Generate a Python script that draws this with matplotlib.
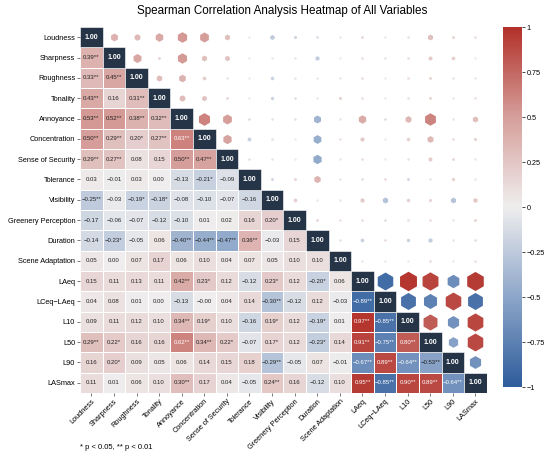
import numpy as np
import matplotlib.pyplot as plt
from matplotlib.colors import LinearSegmentedColormap, Normalize

plt.rcParams["font.family"] = ["Liberation Sans", "DejaVu Sans"]

# variable names (rows and columns)
labels = ["Loudness", "Sharpness", "Roughness", "Tonality", "Annoyance", "Concentration",
          "Sense of Security", "Tolerance", "Visibility", "Greenery Perception", "Duration",
          "Scene Adaptation", "LAeq", "LCeq\u2212LAeq", "L10", "L50", "L90", "LASmax"]

# lower triangle of the Spearman matrix (row i, columns 0..i-1)
rho_rows = [
    [],
    [0.39],
    [0.33, 0.45],
    [0.43, 0.16, 0.31],
    [0.53, 0.52, 0.38, 0.32],
    [0.50, 0.29, 0.20, 0.27, 0.63],
    [0.29, 0.27, 0.08, 0.15, 0.50, 0.47],
    [0.03, -0.01, 0.03, 0.00, -0.13, -0.21, -0.09],
    [-0.25, -0.03, -0.19, -0.18, -0.08, -0.10, -0.07, -0.16],
    [-0.17, -0.06, -0.07, -0.12, -0.10, 0.01, 0.02, 0.16, 0.20],
    [-0.14, -0.23, -0.05, 0.06, -0.40, -0.44, -0.47, 0.36, -0.03, 0.15],
    [0.05, 0.00, 0.07, 0.17, 0.06, 0.10, 0.04, 0.07, 0.05, 0.10, 0.10],
    [0.15, 0.11, 0.13, 0.11, 0.42, 0.23, 0.12, -0.12, 0.23, 0.12, -0.20, 0.06],
    [0.04, 0.08, 0.01, 0.00, -0.13, -0.0, 0.04, 0.14, -0.30, -0.12, 0.12, -0.03, -0.89],
    [0.09, 0.11, 0.12, 0.10, 0.34, 0.19, 0.10, -0.16, 0.19, 0.12, -0.19, 0.01, 0.97, -0.85],
    [0.29, 0.22, 0.16, 0.16, 0.62, 0.34, 0.22, -0.07, 0.17, 0.12, -0.23, 0.14, 0.91, -0.75, 0.80],
    [0.16, 0.20, 0.09, 0.05, 0.06, 0.14, 0.15, 0.18, -0.29, -0.05, 0.07, -0.01, -0.67, 0.89, -0.64, -0.53],
    [0.11, 0.01, 0.06, 0.10, 0.30, 0.17, 0.04, -0.05, 0.24, 0.16, -0.12, 0.10, 0.95, -0.85, 0.90, 0.89, -0.64],
]

# significance marks for the same cells
star_rows = [
    [],
    ["**"],
    ["**", "**"],
    ["**", "", "**"],
    ["**", "**", "**", "**"],
    ["**", "**", "*", "**", "**"],
    ["**", "**", "", "", "**", "**"],
    ["", "", "", "", "", "*", ""],
    ["**", "", "*", "*", "", "", "", ""],
    ["", "", "", "", "", "", "", "", "*"],
    ["", "*", "", "", "**", "**", "**", "**", "", ""],
    ["", "", "", "", "", "", "", "", "", "", ""],
    ["", "", "", "", "**", "*", "", "", "*", "", "*", ""],
    ["", "", "", "", "", "", "", "", "**", "", "", "", "**"],
    ["", "", "", "", "**", "*", "", "", "*", "", "*", "", "**", "**"],
    ["**", "*", "", "", "**", "**", "*", "", "*", "", "*", "", "**", "**", "**"],
    ["", "*", "", "", "", "", "", "", "**", "", "", "", "**", "**", "**", "**"],
    ["", "", "", "", "**", "", "", "", "**", "", "", "", "**", "**", "**", "**", "**"],
]

cbar_ticks = [-1, -0.75, -0.5, -0.25, 0, 0.25, 0.5, 0.75, 1]
cbar_labels = ["\u22121", "\u22120.75", "\u22120.5", "\u22120.25", "0", "0.25", "0.5", "0.75", "1"]

n = len(labels)
cmap = LinearSegmentedColormap.from_list(
    "rb", ["#2d5c9b", "#8da6c9", "#efeeee", "#d69f9b", "#b2312a"])
norm = Normalize(-1, 1)

# full lower matrix, upper masked
lower = np.full((n, n), np.nan)
for i, r in enumerate(rho_rows):
    for j, v in enumerate(r):
        lower[i, j] = v

fig = plt.figure(figsize=(5.5, 4.58), dpi=100)
ax = fig.add_axes([0.1455, 0.142, 0.7395, 0.799])
cax = fig.add_axes([0.9145, 0.155, 0.0345, 0.786])

mesh = ax.pcolormesh(np.arange(n + 1), np.arange(n + 1), np.ma.masked_invalid(lower),
                     cmap=cmap, norm=norm, edgecolors="white", linewidth=0.4)

# diagonal cells
for k in range(n):
    ax.add_patch(plt.Rectangle((k, k), 1, 1, facecolor="#253447",
                               edgecolor="white", linewidth=0.4))
    ax.text(k + 0.5, k + 0.5, "1.00", ha="center", va="center",
            color="white", fontsize=5, fontweight="bold")

# annotations and hexagons
for i, r in enumerate(rho_rows):
    for j, v in enumerate(r):
        txt = f"{v:.2f}".replace("-", "\u2212") + star_rows[i][j]
        col = "white" if abs(v) >= 0.6 else "#222222"
        ax.text(j + 0.5, i + 0.5, txt, ha="center", va="center",
                color=col, fontsize=4.3)
        ms = max(14.5 * abs(v), 2.0)
        ax.plot(i + 0.5, j + 0.5, marker="h", ms=ms, color=cmap(norm(v)),
                markeredgewidth=0, linestyle="none")

ax.set_xlim(0, n)
ax.set_ylim(n, 0)
ax.set_xticks(np.arange(n) + 0.5)
ax.set_yticks(np.arange(n) + 0.5)
ax.set_xticklabels(labels, rotation=45, ha="right", rotation_mode="anchor", fontsize=5.3)
ax.set_yticklabels(labels, fontsize=5.3)
ax.tick_params(length=2, width=0.5, color="#444444", pad=1.5)
for s in ax.spines.values():
    s.set_visible(False)

cb = fig.colorbar(mesh, cax=cax, ticks=cbar_ticks)
cb.ax.set_yticklabels(cbar_labels)
cb.ax.tick_params(labelsize=5.2, length=2, width=0.5, pad=1.5)
cb.outline.set_visible(False)

fig.text(0.513, 0.976, "Spearman Correlation Analysis Heatmap of All Variables",
         ha="center", va="center", fontsize=8.4)
fig.text(0.1455, 0.022, "* p < 0.05, ** p < 0.01", ha="left", va="center", fontsize=5.5)

plt.savefig("out.png", dpi=100)
